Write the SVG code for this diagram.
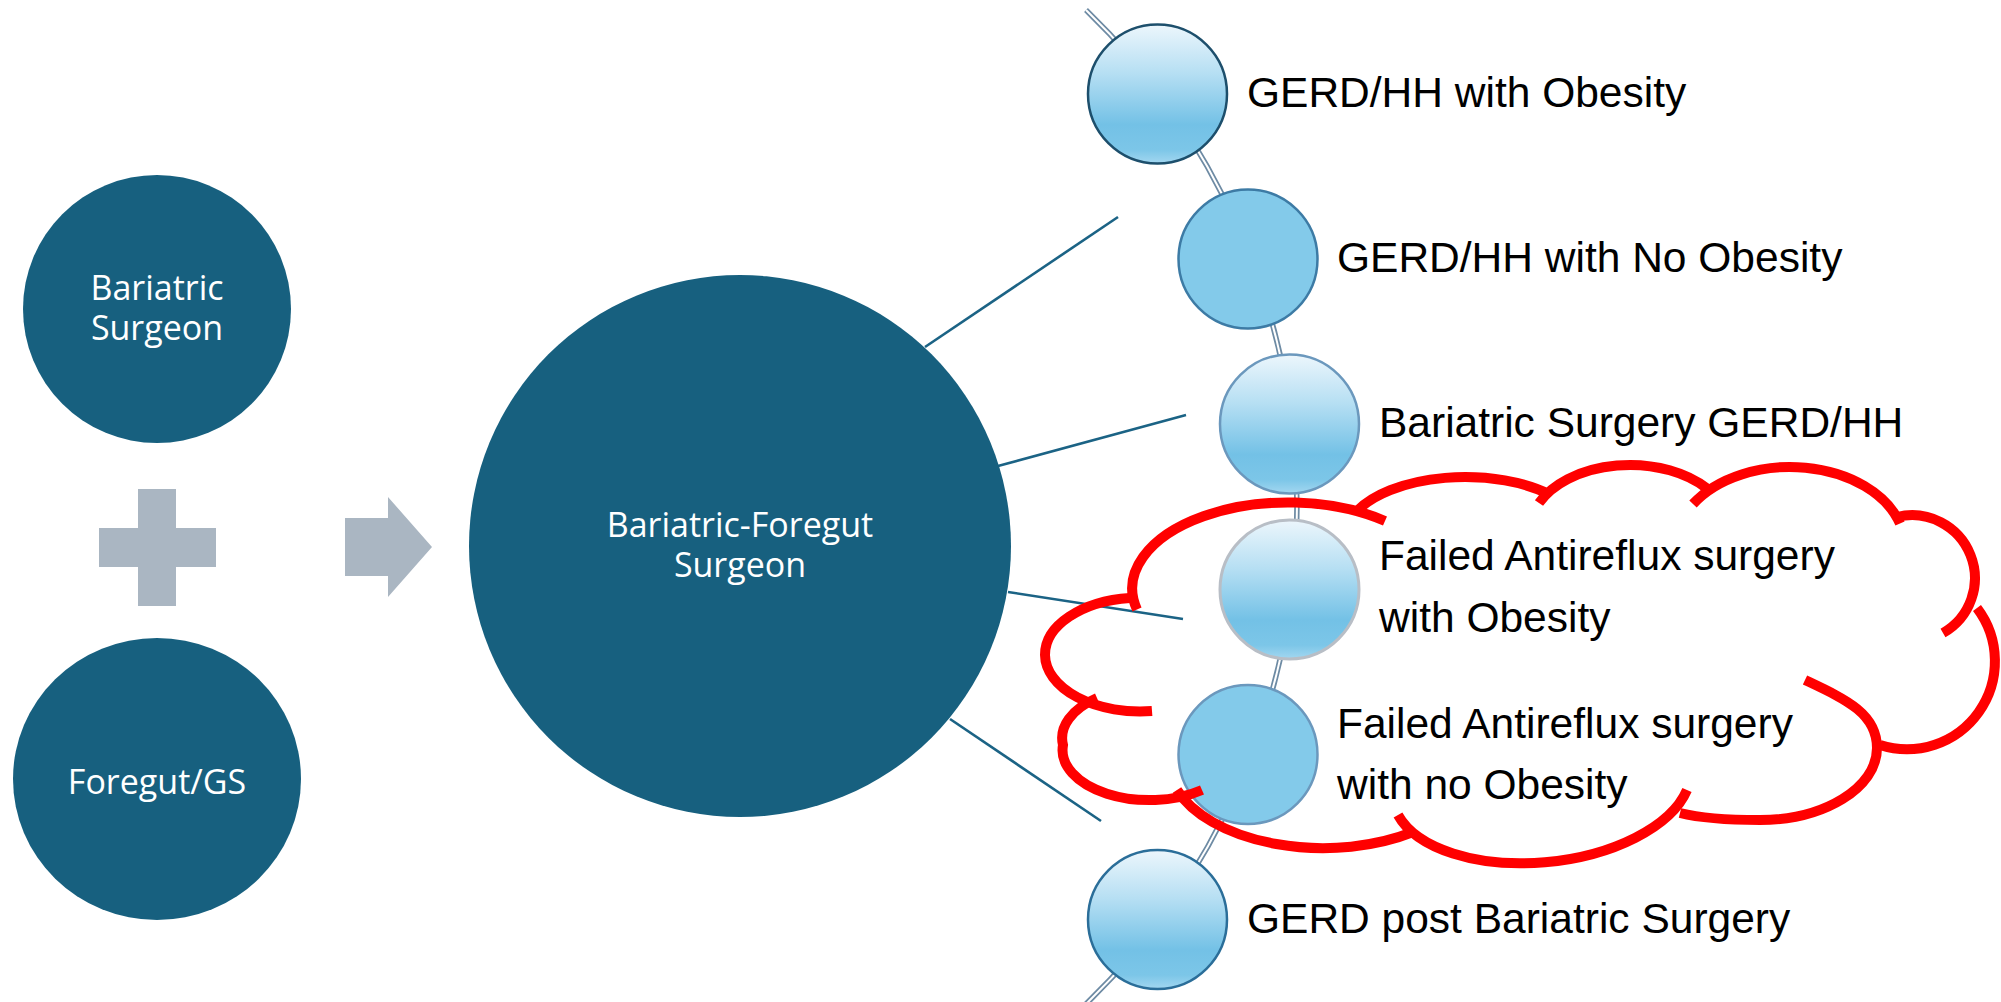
<svg xmlns="http://www.w3.org/2000/svg" width="2001" height="1002" viewBox="0 0 2001 1002">
<defs>
<linearGradient id="bub" x1="0" y1="0" x2="0" y2="1">
<stop offset="0" stop-color="#ecf6fc"/>
<stop offset="0.35" stop-color="#b6dff3"/>
<stop offset="0.72" stop-color="#73c1e6"/>
<stop offset="0.9" stop-color="#7cc6e8"/>
<stop offset="1" stop-color="#a3d7f0"/>
</linearGradient>
<style>
.dark{fill:#17607f}
.gray{fill:#aab6c2}
.wt{fill:#ffffff;font-family:"Open Sans","Noto Sans",sans-serif;font-size:34px;text-anchor:middle}
.lbl{fill:#000000;font-family:"Liberation Sans",Arial,sans-serif;font-size:42.5px}
.spoke{stroke:#1b6385;stroke-width:2.6;fill:none}
.grad{fill:url(#bub)}
.solid{fill:#83caea}
.n{stroke-width:2.5}
.cloud{fill:none;stroke:#ff0000;stroke-width:10;stroke-linecap:butt}
</style>
</defs>
<rect width="2001" height="1002" fill="#ffffff"/>

<g id="bariatric-surgeon">
<circle class="dark" cx="157" cy="309" r="134"/>
<text class="wt" x="157" y="300">Bariatric</text>
<text class="wt" x="157" y="340">Surgeon</text>
</g>
<g id="plus">
<rect class="gray" x="138" y="489" width="38" height="117"/>
<rect class="gray" x="99" y="528" width="117" height="39"/>
</g>
<g id="foregut-gs">
<ellipse class="dark" cx="157" cy="779" rx="144" ry="141"/>
<text class="wt" x="157" y="794">Foregut/GS</text>
</g>
<g id="arrow">
<polygon class="gray" points="345,518 388,518 388,497 432,547 388,597 388,576 345,576"/>
</g>

<g id="connectors">
<path d="M 1086 10 A 691 691 0 0 1 1086 1004" fill="none" stroke="#6e8ba4" stroke-width="5.5"/>
<path d="M 1086 10 A 691 691 0 0 1 1086 1004" fill="none" stroke="#ffffff" stroke-width="2"/>
<line class="spoke" x1="925" y1="347" x2="1118" y2="217"/>
<line class="spoke" x1="998" y1="466" x2="1186" y2="415"/>
<line class="spoke" x1="1008" y1="592" x2="1183" y2="619"/>
<line class="spoke" x1="950" y1="719" x2="1101" y2="821"/>
</g>

<g id="bariatric-foregut-surgeon">
<circle class="dark" cx="740" cy="546" r="271"/>
<text class="wt" x="740" y="537">Bariatric-Foregut</text>
<text class="wt" x="740" y="577">Surgeon</text>
</g>

<g id="node-gerd-hh-obesity">
<circle class="grad n" cx="1157.5" cy="94" r="69.5" stroke="#1d4f6c"/>
<text class="lbl" x="1247" y="107">GERD/HH with Obesity</text>
</g>
<g id="node-gerd-hh-no-obesity">
<circle class="solid n" cx="1248" cy="259" r="69.5" stroke="#3d7ba5"/>
<text class="lbl" x="1337" y="272">GERD/HH with No Obesity</text>
</g>
<g id="node-bariatric-surgery-gerd-hh">
<circle class="grad n" cx="1289.5" cy="424" r="69.5" stroke="#6b98bd"/>
<text class="lbl" x="1379" y="437">Bariatric Surgery GERD/HH</text>
</g>
<g id="node-failed-obesity">
<circle class="grad" cx="1289.5" cy="589.5" r="69.5" stroke="#b8bec6" stroke-width="3"/>
<text class="lbl" x="1379" y="570">Failed Antireflux surgery</text>
<text class="lbl" x="1379" y="632">with Obesity</text>
</g>
<g id="node-failed-no-obesity">
<circle class="solid n" cx="1248" cy="754.5" r="69.5" stroke="#6b98bd"/>
<text class="lbl" x="1337" y="738">Failed Antireflux surgery</text>
<text class="lbl" x="1337" y="799">with no Obesity</text>
</g>
<g id="node-gerd-post-bariatric">
<circle class="grad n" cx="1157.5" cy="919.5" r="69.5" stroke="#2b6e99"/>
<text class="lbl" x="1247" y="933">GERD post Bariatric Surgery</text>
</g>

<g id="cloud">
<path class="cloud" d="M 1137 609.5 A 156 86 0 0 1 1385 521"/>
<path class="cloud" d="M 1357 511 A 120 60 0 0 1 1550 494.6"/>
<path class="cloud" d="M 1539 503 A 100 65 0 0 1 1707 488.5"/>
<path class="cloud" d="M 1693 504 A 115 80 0 0 1 1900 523.6"/>
<path class="cloud" d="M 1897 517 A 63 63 0 0 1 1943 633"/>
<path class="cloud" d="M 1977 608 A 88 88 0 0 1 1880 745"/>
<path class="cloud" d="M 1805 680 C 1845 699 1877 713 1877 748 C 1877 788 1824 820 1760 820 C 1730 820 1700 818 1680 813"/>
<path class="cloud" d="M 1398 815 A 150 80 -6 0 0 1687 790"/>
<path class="cloud" d="M 1177 790 A 155 87 0 0 0 1413 832"/>
<path class="cloud" d="M 1097 698 A 87 50 0 0 0 1063 745 A 87 50 0 0 0 1202 790"/>
<path class="cloud" d="M 1152 711 A 95 57 0 0 1 1045 655 A 95 57 0 0 1 1130 598"/>
</g>
</svg>
